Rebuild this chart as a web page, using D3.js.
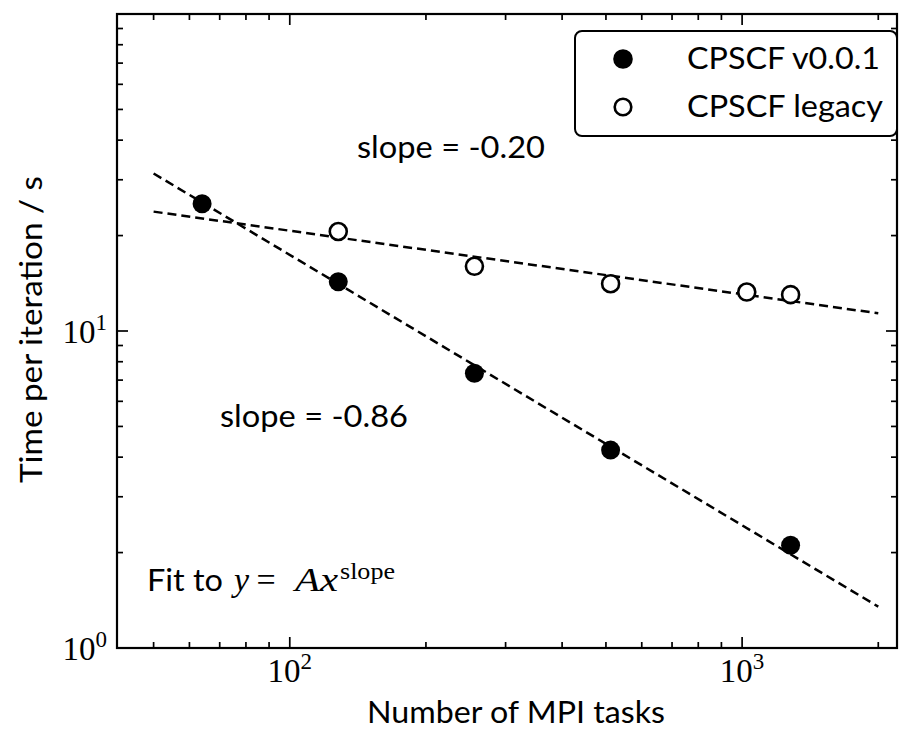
<!DOCTYPE html>
<html><head><meta charset="utf-8">
<script src="https://cdn.jsdelivr.net/npm/d3@7"></script>
<style>body{margin:0;background:#fff}</style>
</head><body><svg id="c" width="901" height="729"></svg>
<script>
// ---- data ----
const newX = [64, 128, 256, 512, 1280];
const newY = [25.2, 14.3, 7.36, 4.21, 2.11];
const legacyX = [128, 256, 512, 1024, 1280];
const legacyY = [20.6, 16.0, 14.1, 13.27, 13.02];
const fitX = [50, 2000];
const fitNewY = [31.4, 1.35];
const fitLegacyY = [23.8, 11.37];
const xMajorTicks = [100, 1000];
const yMajorTicks = [1, 10];
const seriesNames = ["CPSCF v0.0.1", "CPSCF legacy"];
const slopeLabels = ["slope = -0.20", "slope = -0.86"];
const xLabel = "Number of MPI tasks";
const yLabel = "Time per iteration / s";

// ---- layout ----
const L = 117, R = 897, T = 14, B = 648;
const svg = d3.select("#c");
const sans = "Lato, 'Open Sans', sans-serif";
const serif = "'Liberation Serif', 'DejaVu Serif', serif";

const x = d3.scaleLog().domain([41.5, 2200]).range([L, R]);
const y = d3.scaleLog().domain([1, 100]).range([B, T]);

const isPow = v => Math.abs(Math.log10(v) - Math.round(Math.log10(v))) < 1e-9;
const minorX = x.ticks().filter(v => !isPow(v));
const minorY = y.ticks().filter(v => !isPow(v));
const allYMajor = y.ticks().filter(isPow);

const g = svg.append("g");

// fit lines
const line = d3.line().x(d => x(d[0])).y(d => y(d[1]));
[fitNewY, fitLegacyY].forEach(fy => {
  g.append("path").datum(fitX.map((v, i) => [v, fy[i]]))
    .attr("d", line).attr("fill", "none").attr("stroke", "#000")
    .attr("stroke-width", 2.5).attr("stroke-dasharray", "9,5");
});

// markers
g.selectAll("circle.new").data(newX.map((v, i) => [v, newY[i]])).join("circle")
  .attr("cx", d => x(d[0])).attr("cy", d => y(d[1])).attr("r", 9.5).attr("fill", "#000");
g.selectAll("circle.leg").data(legacyX.map((v, i) => [v, legacyY[i]])).join("circle")
  .attr("cx", d => x(d[0])).attr("cy", d => y(d[1])).attr("r", 8.5)
  .attr("fill", "#fff").attr("stroke", "#000").attr("stroke-width", 2.6);

// ticks (inward, all sides)
const tk = svg.append("g").attr("stroke", "#000").attr("stroke-width", 1.7);
const tickX = (vals, len) => vals.forEach(v => {
  tk.append("line").attr("x1", x(v)).attr("x2", x(v)).attr("y1", B).attr("y2", B - len);
  tk.append("line").attr("x1", x(v)).attr("x2", x(v)).attr("y1", T).attr("y2", T + len);
});
const tickY = (vals, len) => vals.forEach(v => {
  tk.append("line").attr("y1", y(v)).attr("y2", y(v)).attr("x1", L).attr("x2", L + len);
  tk.append("line").attr("y1", y(v)).attr("y2", y(v)).attr("x1", R).attr("x2", R - len);
});
tickX(xMajorTicks, 11); tickX(minorX, 6);
tickY(allYMajor, 11); tickY(minorY, 6);

// spines
svg.append("rect").attr("x", L).attr("y", T).attr("width", R - L).attr("height", B - T)
  .attr("fill", "none").attr("stroke", "#000").attr("stroke-width", 2.2);

// tick labels
function powLabel(px, py, exp, anchor) {
  const t = svg.append("text").attr("x", px).attr("y", py).attr("text-anchor", anchor)
    .attr("font-family", serif).attr("font-size", 33).attr("fill", "#000");
  t.append("tspan").text("10");
  t.append("tspan").attr("dy", -13).attr("font-size", 23).text(exp);
}
xMajorTicks.forEach(v => powLabel(x(v), 682, String(Math.round(Math.log10(v))), "middle"));
yMajorTicks.forEach(v => powLabel(107, y(v) + 12, String(Math.round(Math.log10(v))), "end"));

// axis labels
svg.append("text").attr("x", 367).attr("y", 723)
  .attr("font-family", sans).attr("font-size", 31)
  .attr("textLength", 298).attr("lengthAdjust", "spacingAndGlyphs").text(xLabel);
svg.append("text").attr("transform", `translate(42,483) rotate(-90)`)
  .attr("font-family", sans).attr("font-size", 30)
  .attr("textLength", 307).attr("lengthAdjust", "spacingAndGlyphs").text(yLabel);

// slope annotations
svg.append("text").attr("x", 357).attr("y", 158).attr("font-family", sans).attr("font-size", 30)
  .attr("textLength", 188).attr("lengthAdjust", "spacingAndGlyphs").text(slopeLabels[0]);
svg.append("text").attr("x", 220).attr("y", 427).attr("font-family", sans).attr("font-size", 30)
  .attr("textLength", 188).attr("lengthAdjust", "spacingAndGlyphs").text(slopeLabels[1]);

// fit formula
const fy0 = 591;
svg.append("text").attr("x", 147).attr("y", fy0).attr("font-family", sans).attr("font-size", 30)
  .attr("textLength", 76).attr("lengthAdjust", "spacingAndGlyphs").text("Fit to");
svg.append("text").attr("x", 234).attr("y", fy0).attr("font-family", serif).attr("font-style", "italic")
  .attr("font-size", 34).text("y");
svg.append("text").attr("x", 266).attr("y", fy0).attr("text-anchor", "middle").attr("font-family", serif)
  .attr("font-size", 34).text("=");
svg.append("text").attr("x", 295).attr("y", fy0).attr("font-family", serif).attr("font-style", "italic")
  .attr("font-size", 34).attr("textLength", 43).attr("lengthAdjust", "spacingAndGlyphs").text("Ax");
svg.append("text").attr("x", 340).attr("y", fy0 - 12).attr("font-family", serif)
  .attr("font-size", 23).attr("textLength", 55).attr("lengthAdjust", "spacingAndGlyphs").text("slope");

// legend
const lg = svg.append("g");
lg.append("rect").attr("x", 575).attr("y", 31).attr("width", 322).attr("height", 105)
  .attr("rx", 7).attr("fill", "#fff").attr("stroke", "#000").attr("stroke-width", 2);
lg.append("circle").attr("cx", 623).attr("cy", 59).attr("r", 9.8).attr("fill", "#000");
lg.append("circle").attr("cx", 623).attr("cy", 107).attr("r", 8.3).attr("fill", "#fff")
  .attr("stroke", "#000").attr("stroke-width", 2.6);
const legW = [193, 196];
seriesNames.forEach((s, i) => {
  lg.append("text").attr("x", 687).attr("y", 69 + i * 48).attr("font-family", sans)
    .attr("font-size", 30).attr("textLength", legW[i]).attr("lengthAdjust", "spacingAndGlyphs").text(s);
});
</script></body></html>
